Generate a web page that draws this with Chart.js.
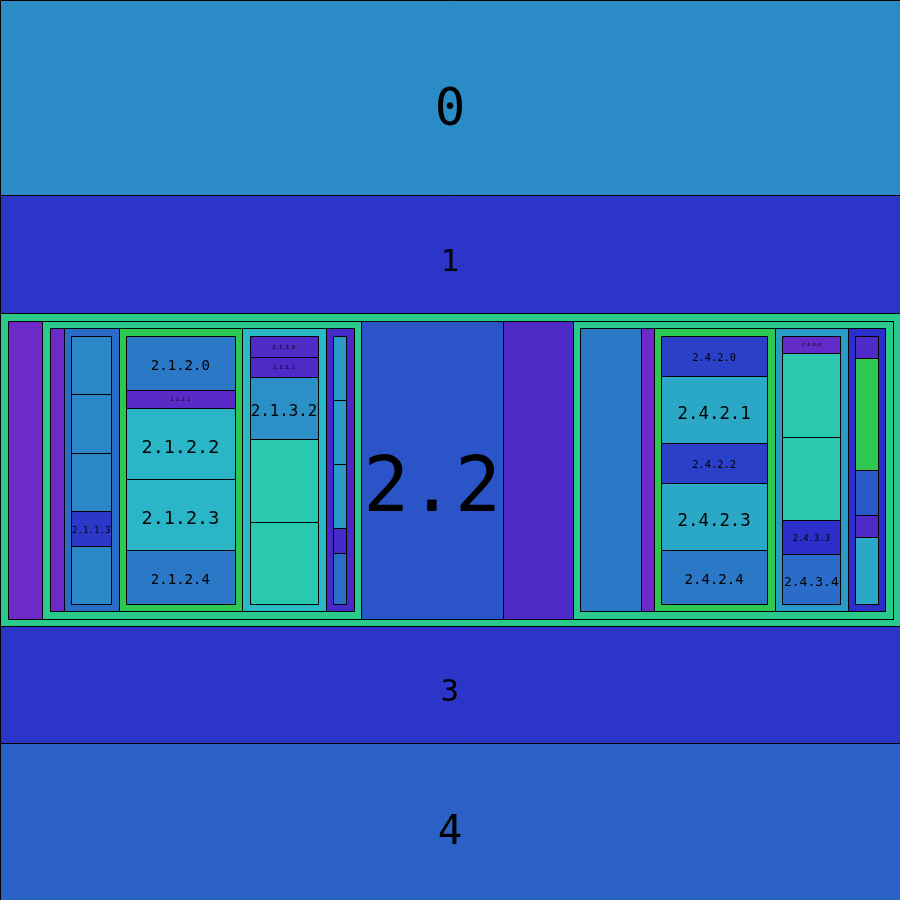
<!DOCTYPE html>
<html>
<head>
<meta charset="utf-8">
<script src="https://cdn.jsdelivr.net/npm/chart.js@4/dist/chart.umd.min.js"></script>
<style>
  html, body { margin: 0; padding: 0; background: #ffffff; }
  #wrap { width: 900px; height: 900px; }
</style>
</head>
<body>
<div id="wrap"><canvas id="c" width="900" height="900"></canvas></div>
<script>
// ---- DATA (hierarchical values) ----
const rootValues    = [195, 118, 313, 117, 157];   // 0..4
const node2Values   = [35, 319, 142, 70, 320];     // 2.0..2.4
const node21Values  = [14, 55, 124, 84, 28];       // 2.1.0..2.1.4
const node24Values  = [61, 12, 121, 73, 37];       // 2.4.0..2.4.4
const node211Values = [58, 59, 58, 35, 58];
const node212Values = [54, 18, 71, 71, 54];
const node213Values = [21, 20, 62, 83, 82];
const node214Values = [64, 64, 64, 25, 51];
const node242Values = [40, 67, 40, 67, 54];
const node243Values = [17, 84, 83, 34, 50];
const node244Values = [22, 112, 45, 22, 67];
const labeledIds = ['0', '1', '3', '4', '2.2',
  '2.1.1.3', '2.1.2.0', '2.1.2.1', '2.1.2.2', '2.1.2.3', '2.1.2.4',
  '2.1.3.0', '2.1.3.1', '2.1.3.2',
  '2.4.2.0', '2.4.2.1', '2.4.2.2', '2.4.2.3', '2.4.2.4',
  '2.4.3.0', '2.4.3.3', '2.4.3.4'];

// ---- STYLE ----
const colors = {
  '0': '#2B8BC6', '1': '#2B35C8', '2': '#2AC98C', '3': '#2B35C8', '4': '#2B60C6',
  '2.0': '#6E2AC6', '2.1': '#2AC98C', '2.2': '#2B54C8', '2.3': '#4E2AC6', '2.4': '#2AC98C',
  '2.1.0': '#6C2AC6', '2.1.1': '#2B6CC8', '2.1.2': '#2CC850', '2.1.3': '#2ABAC6', '2.1.4': '#462AC8',
  '2.1.1.0': '#2A88C6', '2.1.1.1': '#2A88C6', '2.1.1.2': '#2A88C6', '2.1.1.3': '#2B38C8', '2.1.1.4': '#2A88C6',
  '2.1.2.0': '#2B78C6', '2.1.2.1': '#5A2AC6', '2.1.2.2': '#2AB6C6', '2.1.2.3': '#2AB6C6', '2.1.2.4': '#2B78C6',
  '2.1.3.0': '#502AC6', '2.1.3.1': '#502AC6', '2.1.3.2': '#2A90C6', '2.1.3.3': '#2AC8AE', '2.1.3.4': '#2AC8AE',
  '2.1.4.0': '#2A9BC6', '2.1.4.1': '#2A9BC6', '2.1.4.2': '#2A9BC6', '2.1.4.3': '#462AC8', '2.1.4.4': '#2B6EC8',
  '2.4.0': '#2B78C6', '2.4.1': '#6E2AC6', '2.4.2': '#2CC850', '2.4.3': '#2A9BC6', '2.4.4': '#2B2EC8',
  '2.4.2.0': '#2B40C8', '2.4.2.1': '#2AA8C6', '2.4.2.2': '#2B40C8', '2.4.2.3': '#2AA8C6', '2.4.2.4': '#2B78C6',
  '2.4.3.0': '#622AC6', '2.4.3.1': '#2AC8AE', '2.4.3.2': '#2AC8AE', '2.4.3.3': '#2B2EC8', '2.4.3.4': '#2B6CC8',
  '2.4.4.0': '#4E2AC6', '2.4.4.1': '#2CC850', '2.4.4.2': '#2B5AC8', '2.4.4.3': '#4E2AC6', '2.4.4.4': '#2AA8C6'
};
const PAD = 7.5;
const FONT = '"DejaVu Sans Mono", "Liberation Mono", monospace';

// ---- TREE + LAYOUT (slice along the longer side) ----
const childValues = {
  '': rootValues, '2': node2Values, '2.1': node21Values, '2.4': node24Values,
  '2.1.1': node211Values, '2.1.2': node212Values, '2.1.3': node213Values, '2.1.4': node214Values,
  '2.4.2': node242Values, '2.4.3': node243Values, '2.4.4': node244Values
};
function build(id, value) {
  const kids = childValues[id];
  return { id, value, children: kids ? kids.map((v, i) => build(id ? id + '.' + i : String(i), v)) : null };
}
const root = build('', rootValues.reduce((a, b) => a + b, 0));

function layout(node, x0, y0, x1, y1, depth) {
  node.rect = [x0, y0, x1, y1];
  node.depth = depth;
  if (!node.children) return;
  const pad = depth === 0 ? 0 : PAD;
  const ix0 = x0 + pad, iy0 = y0 + pad, ix1 = x1 - pad, iy1 = y1 - pad;
  const w = ix1 - ix0, h = iy1 - iy0;
  const total = node.children.reduce((a, c) => a + c.value, 0);
  let acc = 0;
  node.children.forEach(c => {
    const f0 = acc / total; acc += c.value; const f1 = acc / total;
    if (h >= w) layout(c, ix0, iy0 + h * f0, ix1, iy0 + h * f1, depth + 1);
    else layout(c, ix0 + w * f0, iy0, ix0 + w * f1, iy1, depth + 1);
  });
}
layout(root, 0, 0, 900, 900, 0);

const nodes = [];
(function walk(n) { if (n.id) nodes.push(n); if (n.children) n.children.forEach(walk); })(root);
const byId = {};
nodes.forEach(n => byId[n.id] = n);

const snap = v => Math.round(v) + 0.5;
const datasets = nodes.map(n => {
  const [x0, y0, x1, y1] = n.rect.map(snap);
  return {
    label: n.id,
    data: [{x: x0, y: y0}, {x: x1, y: y0}, {x: x1, y: y1}, {x: x0, y: y1}, {x: x0, y: y0}],
    showLine: true,
    fill: 'shape',
    backgroundColor: colors[n.id],
    borderColor: '#000000',
    borderWidth: 1,
    pointRadius: 0,
    pointHoverRadius: 0,
    tension: 0
  };
}).reverse();

const labelPlugin = {
  id: 'treeLabels',
  afterDatasetsDraw(chart) {
    const ctx = chart.ctx, xs = chart.scales.x, ys = chart.scales.y;
    ctx.save();
    ctx.fillStyle = '#000000';
    ctx.textAlign = 'center';
    ctx.textBaseline = 'alphabetic';
    labeledIds.forEach(id => {
      const n = byId[id]; if (!n) return;
      const px0 = xs.getPixelForValue(n.rect[0]), px1 = xs.getPixelForValue(n.rect[2]);
      const py0 = ys.getPixelForValue(n.rect[1]), py1 = ys.getPixelForValue(n.rect[3]);
      const w = Math.abs(px1 - px0), h = Math.abs(py1 - py0);
      const size = Math.min(h * 0.26, w / (id.length * 0.62));
      ctx.font = size.toFixed(2) + 'px ' + FONT;
      ctx.fillText(id, (px0 + px1) / 2, (py0 + py1) / 2 + 0.55 * size);
    });
    ctx.restore();
  }
};

new Chart(document.getElementById('c'), {
  type: 'scatter',
  data: { datasets },
  options: {
    responsive: false,
    maintainAspectRatio: false,
    animation: false,
    events: [],
    layout: { padding: 0 },
    plugins: { legend: { display: false }, tooltip: { enabled: false } },
    scales: {
      x: { type: 'linear', min: 0, max: 900, display: false },
      y: { type: 'linear', min: 0, max: 900, reverse: true, display: false }
    }
  },
  plugins: [labelPlugin]
});
</script>
</body>
</html>
